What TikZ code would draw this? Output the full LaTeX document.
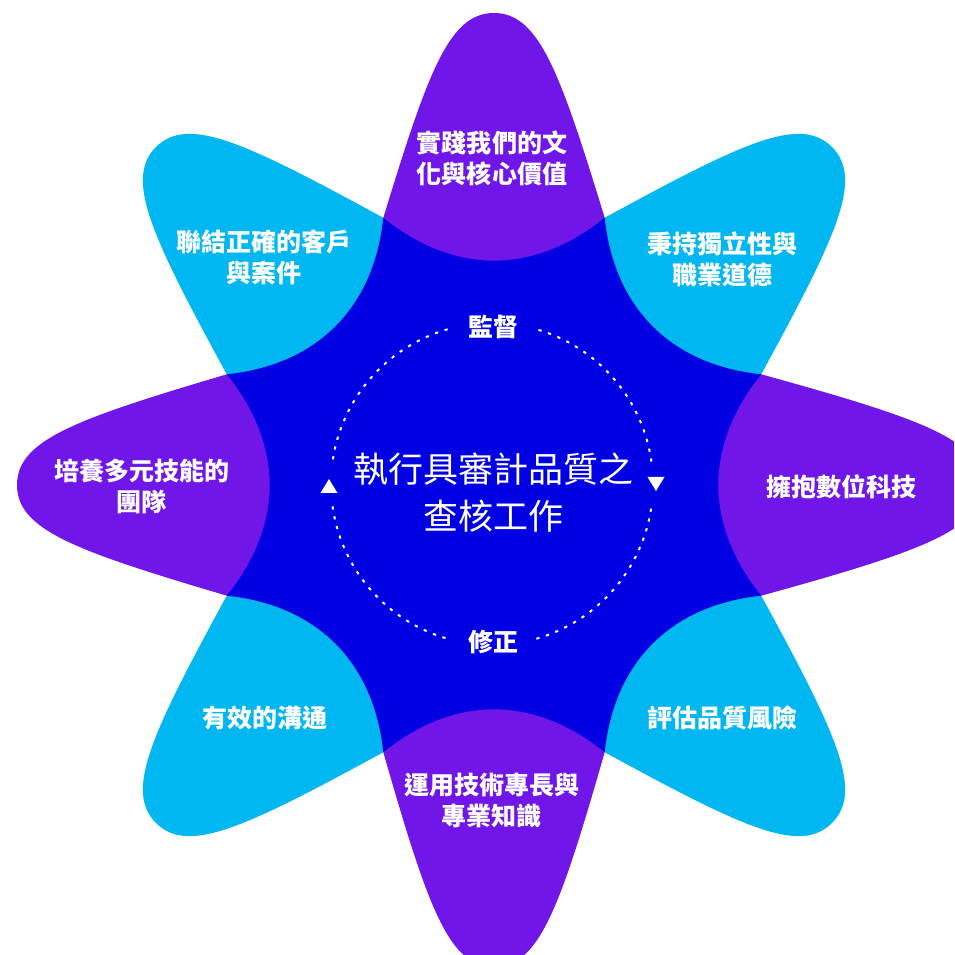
\documentclass[tikz,border=0pt]{standalone}
\usepackage{fontspec}
\setmainfont{Noto Sans CJK TC}
\definecolor{purp}{RGB}{112,22,232}
\definecolor{lblue}{RGB}{0,183,241}
\definecolor{cblue}{RGB}{0,0,227}
\newcommand\petalpath[1]{(0,0) -- (-110.7,267.2) .. controls (-66,#1-59) and (-45,#1) .. (0,#1) .. controls (45,#1) and (66,#1-59) .. (110.7,267.2) -- cycle}
\tikzset{
  lab/.style={text=white, font=\bfseries\fontsize{25}{31}\selectfont, align=center, inner sep=0pt},
  midlab/.style={text=white, font=\bfseries\fontsize{25}{31}\selectfont, inner sep=0pt},
  centerlab/.style={text=white, font=\fontsize{35}{47}\selectfont, align=center, inner sep=0pt},
  dots/.style={white, line width=2pt, dash pattern=on 3.2pt off 6.8pt},
}
\begin{document}
\begin{tikzpicture}[x=1pt,y=1pt]
\useasboundingbox (-494,-470) rectangle (460,485);
\clip (-494,-470) rectangle (460,485);
% purple petals
\begin{scope}[rotate=0]\fill[purp] \petalpath{472};\end{scope}
\begin{scope}[rotate=-90]\fill[purp] \petalpath{488};\end{scope}
\begin{scope}[rotate=180]\fill[purp] \petalpath{482};\end{scope}
\begin{scope}[rotate=90]\fill[purp] \petalpath{477};\end{scope}
% light blue petals
\foreach \r in {45,-45,135,-135}{
  \begin{scope}[rotate=\r]\fill[lblue] \petalpath{478};\end{scope}
}
% central star
\fill[cblue] (67.5:289.2) \foreach \a in {90,135,...,405} { .. controls ({\a-10.8}:213.8) and ({\a+10.8}:213.8) .. ({\a+22.5}:289.2) } -- cycle;
% dotted cycle
\coordinate (cc) at (-2,1);
\draw[dots] ([shift={(8:161)}]cc) arc (8:74:161);
\draw[dots] ([shift={(106:161)}]cc) arc (106:172:161);
\draw[dots] ([shift={(188:161)}]cc) arc (188:254:161);
\draw[dots] ([shift={(286:161)}]cc) arc (286:352:161);
\fill[white] (-173.5,-8) -- (-156.5,-8) -- (-165,6) -- cycle;
\fill[white] (153.5,8) -- (170.5,8) -- (162,-6) -- cycle;
% labels
\node[midlab] (mon) at (-1,158) {監督};
\node[midlab] (fix) at (-1,-157) {修正};
\node[centerlab] (core) at (0,-8) {執行具審計品質之\\查核工作};
\node[lab] (p1) at (-2,327) {實踐我們的文\\化與核心價值};
\node[lab] (p2) at (228,226) {秉持獨立性與\\職業道德};
\node[lab] (p3) at (347,-2) {擁抱數位科技};
\node[lab] (p4) at (228,-233) {評估品質風險};
\node[lab] (p5) at (-2,-315) {運用技術專長與\\專業知識};
\node[lab] (p6) at (-229,-233) {有效的溝通};
\node[lab] (p7) at (-352,-1) {培養多元技能的\\團隊};
\node[lab] (p8) at (-230,228) {聯結正確的客戶\\與案件};
\end{tikzpicture}
\end{document}
